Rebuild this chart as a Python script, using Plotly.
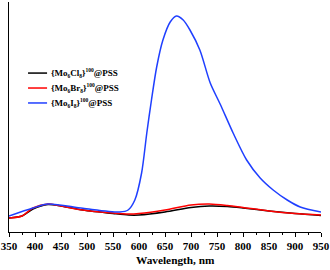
import plotly.graph_objects as go

wl_blue = [350, 396, 425, 492, 563, 579, 592, 605, 615, 624, 634, 646, 660, 672, 685, 698, 717, 737, 756, 781, 807, 833, 858, 885, 910, 950]
int_blue = [16, 24, 28, 23.7, 20, 22, 32, 59, 99, 132, 165, 192, 210, 216, 212, 202, 182, 149, 128, 99, 72, 54, 42, 32, 25, 20]

wl_cl = [350, 375, 396, 425, 450, 492, 550, 580, 600, 650, 700, 735, 770, 800, 850, 900, 950]
int_cl = [14, 16, 23, 27.5, 26, 22, 18.5, 17, 17, 20, 24.5, 26, 25.5, 24, 21, 18.5, 16.5]

wl_br = [350, 375, 396, 425, 450, 492, 550, 580, 600, 650, 700, 735, 770, 800, 850, 900, 950]
int_br = [14, 16, 24, 28, 26, 22, 19, 18, 18.5, 22, 27, 28, 26.5, 24.5, 21, 18.5, 17]

def small(t):
    return '<span style="font-size:5.5px">' + t + '</span>'

names = ["<b>{Mo<sub>" + small("6") + "</sub>Cl<sub>" + small("8") + "</sub>}<sup>" + small("100") + "</sup>@PSS</b>",
         "<b>{Mo<sub>" + small("6") + "</sub>Br<sub>" + small("8") + "</sub>}<sup>" + small("100") + "</sup>@PSS</b>",
         "<b>{Mo<sub>" + small("6") + "</sub>I<sub>" + small("8") + "</sub>}<sup>" + small("100") + "</sup>@PSS</b>"]
colors = ["#000000", "#ff0000", "#1f3fff"]

x_ticks = [350, 400, 450, 500, 550, 600, 650, 700, 750, 800, 850, 900, 950]

fig = go.Figure()
series = [(wl_cl, int_cl), (wl_br, int_br), (wl_blue, int_blue)]
for (wl, y), n, c in zip(series, names, colors):
    fig.add_trace(go.Scatter(x=wl, y=y, name=n, mode="lines", showlegend=False,
                             line=dict(color=c, width=1.5, shape="spline", smoothing=0.8)))

# manual legend
leg_y = [0.691, 0.626, 0.561]
for n, c, yy in zip(names, colors, leg_y):
    fig.add_shape(type="line", xref="paper", yref="paper", x0=0.061, x1=0.122, y0=yy, y1=yy,
                  line=dict(color=c, width=1.5))
    fig.add_annotation(xref="paper", yref="paper", x=0.128, y=yy, text=n, showarrow=False,
                       xanchor="left", yanchor="middle",
                       font=dict(family="Liberation Serif", size=9, color="black"))

fig.add_annotation(xref="paper", yref="paper", x=0.535, y=-0.122, text="<b>Wavelength, nm</b>",
                   showarrow=False, xanchor="center", yanchor="middle",
                   font=dict(family="Liberation Serif", size=11.3, color="black"))

fig.update_layout(
    width=330, height=270,
    margin=dict(l=9, r=9, t=2, b=38),
    plot_bgcolor="white", paper_bgcolor="white",
    showlegend=False,
    xaxis=dict(range=[350, 950], tickvals=x_ticks, ticks="outside", ticklen=4,
               tickwidth=1, tickcolor="black", automargin=False,
               minor=dict(ticks="outside", ticklen=2, dtick=25, tickcolor="black"),
               showline=True, linecolor="black", linewidth=1, showgrid=False, zeroline=False,
               tickfont=dict(family="Liberation Serif", size=11, color="black", weight="bold")),
    yaxis=dict(range=[0, 230], showticklabels=False, ticks="", showline=True, automargin=False,
               linecolor="black", linewidth=1, showgrid=False, zeroline=False),
)
fig.write_html("out.html", config={"displayModeBar": False},
               post_script="document.body.style.margin='0';document.body.style.overflow='hidden';")
